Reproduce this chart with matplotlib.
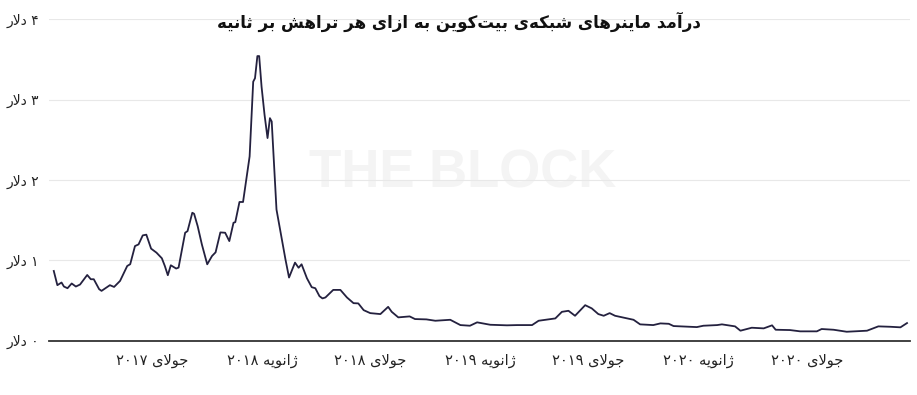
import matplotlib
matplotlib.use('Agg')
import matplotlib.pyplot as plt
import matplotlib.dates as mdates
import pandas as pd

# ---------------- data ----------------
dates = [
    '2017-01-17', '2017-01-23', '2017-01-30', '2017-02-03', '2017-02-09', '2017-02-16',
    '2017-02-23', '2017-03-02', '2017-03-14', '2017-03-20', '2017-03-25', '2017-04-03',
    '2017-04-07', '2017-04-21', '2017-04-28', '2017-05-08', '2017-05-20', '2017-05-25',
    '2017-06-02', '2017-06-08', '2017-06-15', '2017-06-21', '2017-06-29', '2017-07-08',
    '2017-07-17', '2017-07-22', '2017-07-27', '2017-08-01', '2017-08-10', '2017-08-14',
    '2017-08-25', '2017-08-29', '2017-09-06', '2017-09-09', '2017-09-15', '2017-09-22',
    '2017-10-01', '2017-10-09', '2017-10-15', '2017-10-23', '2017-10-31', '2017-11-07',
    '2017-11-14', '2017-11-17', '2017-11-24', '2017-11-30', '2017-12-11', '2017-12-17',
    '2017-12-20', '2017-12-24', '2017-12-27', '2017-12-31', '2018-01-05', '2018-01-10',
    '2018-01-14', '2018-01-17', '2018-01-25', '2018-02-03', '2018-02-09', '2018-02-15',
    '2018-02-25', '2018-03-03', '2018-03-08', '2018-03-17', '2018-03-25', '2018-03-31',
    '2018-04-07', '2018-04-12', '2018-04-17', '2018-04-30', '2018-05-12', '2018-05-23',
    '2018-06-03', '2018-06-11', '2018-06-20', '2018-07-01', '2018-07-18', '2018-07-31',
    '2018-08-06', '2018-08-17', '2018-09-05', '2018-09-14', '2018-10-03', '2018-10-18',
    '2018-11-12', '2018-11-29', '2018-12-15', '2018-12-27', '2019-01-18', '2019-02-15',
    '2019-03-04', '2019-03-29', '2019-04-09', '2019-05-07', '2019-05-18', '2019-05-29',
    '2019-06-09', '2019-06-26', '2019-07-07', '2019-07-18', '2019-07-27', '2019-08-06',
    '2019-08-15', '2019-09-04', '2019-09-15', '2019-09-26', '2019-10-18', '2019-10-30',
    '2019-11-13', '2019-11-21', '2019-12-30', '2020-01-10', '2020-02-02', '2020-02-10',
    '2020-03-03', '2020-03-12', '2020-03-31', '2020-04-20', '2020-05-04', '2020-05-10',
    '2020-06-03', '2020-06-20', '2020-07-18', '2020-07-26', '2020-08-15', '2020-09-06',
    '2020-10-10', '2020-10-29', '2020-11-18', '2020-12-05', '2020-12-16',
]
revenue = [
    0.866, 0.689, 0.722, 0.672, 0.651, 0.710,
    0.672, 0.697, 0.816, 0.763, 0.763, 0.639,
    0.618, 0.689, 0.667, 0.742, 0.928, 0.950,
    1.176, 1.197, 1.309, 1.318, 1.144, 1.094,
    1.024, 0.928, 0.813, 0.937, 0.896, 0.908,
    1.342, 1.362, 1.591, 1.578, 1.424, 1.197,
    0.949, 1.052, 1.098, 1.346, 1.342, 1.238,
    1.466, 1.474, 1.725, 1.725, 2.293, 3.223,
    3.266, 3.542, 3.542, 3.161, 2.810, 2.521,
    2.769, 2.727, 1.631, 1.259, 1.011, 0.784,
    0.970, 0.906, 0.949, 0.775, 0.664, 0.651,
    0.552, 0.524, 0.536, 0.630, 0.630, 0.536,
    0.465, 0.462, 0.378, 0.341, 0.329, 0.419,
    0.357, 0.288, 0.300, 0.267, 0.263, 0.246,
    0.258, 0.192, 0.184, 0.226, 0.196, 0.189,
    0.192, 0.192, 0.246, 0.275, 0.357, 0.370,
    0.308, 0.440, 0.400, 0.329, 0.308, 0.341,
    0.308, 0.275, 0.258, 0.201, 0.192, 0.213,
    0.208, 0.180, 0.167, 0.184, 0.192, 0.201,
    0.176, 0.122, 0.159, 0.151, 0.189, 0.134,
    0.130, 0.114, 0.114, 0.143, 0.134, 0.109,
    0.122, 0.176, 0.171, 0.164, 0.217,
]
tick_dates = ['2017-07-01', '2018-01-01', '2018-07-01', '2019-01-01',
              '2019-07-01', '2020-01-01', '2020-07-01']
tick_labels = ['جولای ۲۰۱۷', 'ژانویه ۲۰۱۸', 'جولای ۲۰۱۸', 'ژانویه ۲۰۱۹',
               'جولای ۲۰۱۹', 'ژانویه ۲۰۲۰', 'جولای ۲۰۲۰']
y_ticks = [0, 1, 2, 3, 4]
y_labels = ['۰ دلار', '۱ دلار', '۲ دلار', '۳ دلار', '۴ دلار']
title = 'درآمد ماینرهای شبکه‌ی بیت‌کوین به ازای هر تراهش بر ثانیه'
watermark = 'THE BLOCK'

# ---------------- minimal Persian shaping (presentation forms + RTL order) ----------------
FORMS = {
    '\u0627': ('\uFE8D', '\uFE8E', None, None),
    '\u0622': ('\uFE81', '\uFE82', None, None),
    '\u0628': ('\uFE8F', '\uFE90', '\uFE91', '\uFE92'),
    '\u062A': ('\uFE95', '\uFE96', '\uFE97', '\uFE98'),
    '\u062B': ('\uFE99', '\uFE9A', '\uFE9B', '\uFE9C'),
    '\u062C': ('\uFE9D', '\uFE9E', '\uFE9F', '\uFEA0'),
    '\u062F': ('\uFEA9', '\uFEAA', None, None),
    '\u0631': ('\uFEAD', '\uFEAE', None, None),
    '\u0632': ('\uFEAF', '\uFEB0', None, None),
    '\u0698': ('\uFB8A', '\uFB8B', None, None),
    '\u0634': ('\uFEB5', '\uFEB6', '\uFEB7', '\uFEB8'),
    '\u0644': ('\uFEDD', '\uFEDE', '\uFEDF', '\uFEE0'),
    '\u0645': ('\uFEE1', '\uFEE2', '\uFEE3', '\uFEE4'),
    '\u0646': ('\uFEE5', '\uFEE6', '\uFEE7', '\uFEE8'),
    '\u0647': ('\uFEE9', '\uFEEA', '\uFEEB', '\uFEEC'),
    '\u0648': ('\uFEED', '\uFEEE', None, None),
    '\u06CC': ('\uFBFC', '\uFBFD', '\uFBFE', '\uFBFF'),
    '\u06A9': ('\uFB8E', '\uFB8F', '\uFB90', '\uFB91'),
}
LAM_ALEF = {'\u0627': ('\uFEFB', '\uFEFC'), '\u0622': ('\uFEF5', '\uFEF6')}


def _dual(c):
    return c in FORMS and FORMS[c][2] is not None


def shape_word(w):
    chars = list(w)
    n = len(chars)
    out = []
    i = 0
    while i < n:
        c = chars[i]
        if c not in FORMS:
            if c != '\u200c':
                out.append(c)
            i += 1
            continue
        prev = chars[i - 1] if i > 0 else None
        link_prev = prev is not None and _dual(prev)
        if c == '\u0644' and i + 1 < n and chars[i + 1] in LAM_ALEF:
            out.append(LAM_ALEF[chars[i + 1]][1 if link_prev else 0])
            i += 2
            continue
        nxt = chars[i + 1] if i + 1 < n else None
        link_next = _dual(c) and nxt is not None and nxt in FORMS
        iso, fin, ini, med = FORMS[c]
        if link_prev and link_next:
            out.append(med)
        elif link_prev:
            out.append(fin)
        elif link_next:
            out.append(ini)
        else:
            out.append(iso)
        i += 1
    return ''.join(out)


def rtl(s):
    vis = []
    for w in s.split(' '):
        if all('\u06F0' <= ch <= '\u06F9' or ch.isdigit() for ch in w):
            vis.append(w)
        else:
            vis.append(shape_word(w)[::-1])
    return ' '.join(reversed(vis))


# ---------------- figure ----------------
plt.rcParams['font.family'] = ['DejaVu Sans']
fig = plt.figure(figsize=(9.17, 3.95), dpi=100)
ax = fig.add_axes([49 / 917, 54.5 / 395, 861 / 917, 321.2 / 395])

x = pd.to_datetime(dates)
ax.plot(x, revenue, color='#24213f', linewidth=1.3, zorder=3, solid_joinstyle='round')

ax.set_ylim(0, 4)
ax.set_xlim(pd.Timestamp('2017-01-09'), pd.Timestamp('2020-12-21'))

ax.set_yticks(y_ticks)
ax.set_yticklabels([rtl(s) for s in y_labels], fontsize=10, color='#222222')
ax.set_xticks(pd.to_datetime(tick_dates))
ax.set_xticklabels([rtl(s) for s in tick_labels], fontsize=10.5, color='#222222')
ax.tick_params(axis='both', length=0)
ax.tick_params(axis='y', pad=7)
ax.tick_params(axis='x', pad=9)

ax.grid(axis='y', color='#e8e8e8', linewidth=0.8, zorder=1)
ax.grid(axis='x', visible=False)
ax.set_axisbelow(True)
for side in ['top', 'right', 'left']:
    ax.spines[side].set_visible(False)
ax.spines['bottom'].set_color('#333333')
ax.spines['bottom'].set_linewidth(1.3)

ax.text(0.48, 0.52, watermark, transform=ax.transAxes, ha='center', va='center',
        fontsize=38, fontweight='bold', family='Liberation Sans', color='#f4f4f4', zorder=0)

fig.text(0.5, 1 - 22 / 395, rtl(title), ha='center', va='center', fontsize=12,
         fontweight='bold', color='#111111')

fig.savefig('out.png', dpi=100, facecolor='white')
